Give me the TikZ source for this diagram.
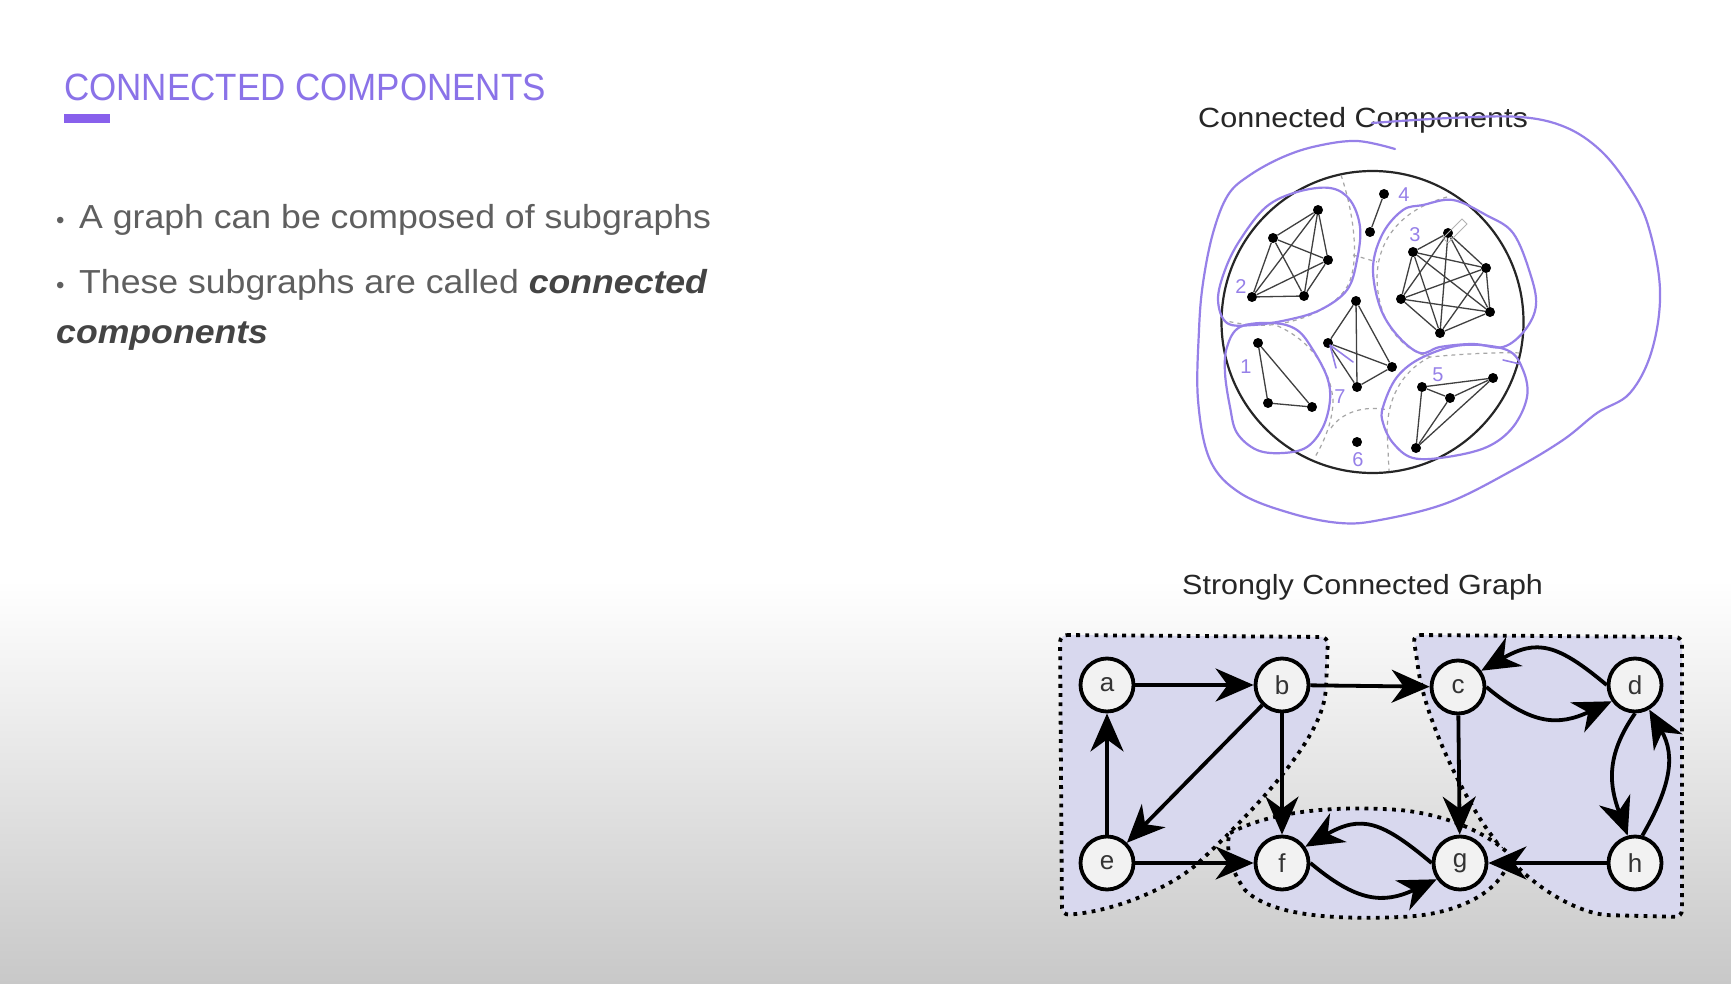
\documentclass[tikz,border=0pt]{standalone}
\usepackage{fontspec}
\setmainfont{Liberation Sans}
\newfontfamily\titlefont[FakeStretch=0.92]{Liberation Sans}
\newfontfamily\bodyfont[FakeStretch=1.07]{Liberation Sans}
\newfontfamily\capfont[FakeStretch=1.1]{Liberation Sans}
\usetikzlibrary{arrows.meta}
\definecolor{titlepurple}{RGB}{138,114,232}
\definecolor{barpurple}{RGB}{136,96,236}
\definecolor{bodygray}{RGB}{95,95,95}
\definecolor{emgray}{RGB}{68,68,68}
\definecolor{penviolet}{RGB}{150,128,232}
\definecolor{regionfill}{RGB}{216,216,238}
\definecolor{bggray}{RGB}{200,200,200}

\begin{document}
\begin{tikzpicture}[x=1pt,y=1pt,
  txt/.style={inner sep=0pt, anchor=base west},
  vtx/.style={circle, draw=black, line width=3.8pt, fill=black!5, minimum size=53pt, inner sep=0pt, font=\fontsize{26}{26}\selectfont, text=black!80},
  arr/.style={line width=3.8pt, -{Stealth[length=38pt,width=33pt,inset=12pt]}},
  region/.style={fill=regionfill, draw=black, line width=3.8pt, dash pattern=on 3.8pt off 5.4pt},
  vdot/.style={circle, fill=black, minimum size=10pt, inner sep=0pt},
  ledge/.style={line width=1.3pt, black!75},
  part/.style={gray!70, line width=1.2pt, dash pattern=on 4pt off 4pt},
  penline/.style={penviolet, line width=2.2pt, line cap=round, line join=round},
  penlabel/.style={text=penviolet, font=\fontsize{20}{20}\selectfont, inner sep=0pt}
]
% page and background
\useasboundingbox (0,0) rectangle (1731,-984);
\fill[white] (0,0) rectangle (1731,-984);
\shade[top color=white, bottom color=bggray] (0,-580) rectangle (1731,-984);

% ---------- left text column ----------
\node[txt, text=titlepurple, font=\titlefont\fontsize{38}{40}\selectfont] (title) at (64,-101) {CONNECTED COMPONENTS};
\fill[barpurple] (64,-114) rectangle (110,-123);

\node[txt, text=bodygray, font=\fontsize{24}{24}\selectfont] (b1) at (56,-229) {\textbullet};
\node[txt, text=bodygray, font=\bodyfont\fontsize{33.3}{33}\selectfont] (l1) at (79,-229) {A graph can be composed of subgraphs};
\node[txt, text=bodygray, font=\fontsize{24}{24}\selectfont] (b2) at (56,-294) {\textbullet};
\node[txt, text=bodygray, font=\bodyfont\fontsize{33.3}{33}\selectfont] (l2) at (79,-294) {These subgraphs are called {\color{emgray}\bfseries\itshape connected}};
\node[txt, text=emgray, font=\bodyfont\fontsize{33.3}{33}\selectfont\bfseries\itshape] (l3) at (56,-343) {components};

% ---------- connected components sketch ----------
\node[txt, text=black!85, font=\capfont\fontsize{27.8}{28}\selectfont] (cctitle) at (1198,-128) {Connected Components};

\draw[line width=2.2pt, black!85] (1372.5,-322) circle (151);

% dashed partition of the disc
\draw[part] (1341,-175) .. controls (1356,-220) and (1360,-270) .. (1345,-290)
            .. controls (1330,-310) and (1300,-322) .. (1270,-325)
            .. controls (1250,-326) and (1235,-323) .. (1222,-320);
\draw[part] (1353,-255) -- (1377,-262);
\draw[part] (1447,-197) .. controls (1400,-210) and (1378,-240) .. (1377,-277)
            .. controls (1377,-320) and (1400,-350) .. (1430,-357)
            .. controls (1460,-354) and (1500,-352) .. (1521,-353);
\draw[part] (1430,-357) .. controls (1400,-372) and (1388,-400) .. (1387,-430) -- (1389,-471);
\draw[part] (1270,-323) .. controls (1305,-335) and (1330,-365) .. (1333,-400)
            .. controls (1333,-420) and (1325,-440) .. (1315,-457);
\draw[part] (1331,-428) .. controls (1342,-412) and (1365,-405) .. (1388,-410);

% component of five vertices
\node[vdot] (p1) at (1318,-210) {};
\node[vdot] (p2) at (1273,-238) {};
\node[vdot] (p3) at (1328,-260) {};
\node[vdot] (p4) at (1252,-297) {};
\node[vdot] (p5) at (1304,-296) {};
\foreach \u/\v in {p1/p2,p1/p3,p1/p4,p1/p5,p2/p3,p2/p4,p2/p5,p3/p4,p3/p5,p4/p5}
  \draw[ledge] (\u) -- (\v);

% component of two vertices
\node[vdot] (k1) at (1384,-194) {};
\node[vdot] (k2) at (1370,-232) {};
\draw[ledge] (k1) -- (k2);

% component of six vertices
\node[vdot] (q1) at (1448,-233) {};
\node[vdot] (q2) at (1413,-252) {};
\node[vdot] (q3) at (1486,-268) {};
\node[vdot] (q4) at (1401,-299) {};
\node[vdot] (q5) at (1490,-312) {};
\node[vdot] (q6) at (1440,-333) {};
\foreach \u/\v in {q1/q2,q1/q3,q1/q4,q1/q5,q1/q6,q2/q3,q2/q4,q2/q5,q2/q6,q3/q4,q3/q5,q3/q6,q4/q5,q4/q6,q5/q6}
  \draw[ledge] (\u) -- (\v);
\draw[gray!60, line width=0.9pt] (1443,-238) -- (1462,-219) -- (1467,-224) -- (1448,-243) -- cycle;

% central component
\node[vdot] (r1) at (1356,-301) {};
\node[vdot] (r2) at (1328,-343) {};
\node[vdot] (r3) at (1392,-367) {};
\node[vdot] (r4) at (1357,-387) {};
\foreach \u/\v in {r1/r2,r1/r3,r1/r4,r2/r3,r2/r4,r3/r4}
  \draw[ledge] (\u) -- (\v);

% triangle component
\node[vdot] (s1) at (1258,-343) {};
\node[vdot] (s2) at (1268,-403) {};
\node[vdot] (s3) at (1312,-407) {};
\draw[ledge] (s1) -- (s2) -- (s3) -- (s1);

% isolated vertex
\node[vdot] (iso) at (1357,-442) {};

% lower right component
\node[vdot] (t1) at (1422,-387) {};
\node[vdot] (t2) at (1493,-378) {};
\node[vdot] (t3) at (1450,-398) {};
\node[vdot] (t4) at (1416,-448) {};
\foreach \u/\v in {t1/t2,t1/t3,t1/t4,t2/t3,t2/t4,t3/t4}
  \draw[ledge] (\u) -- (\v);

% hand-drawn pen strokes
\draw[penline] plot[smooth, tension=0.6] coordinates {
  (1372,-123) (1450,-118) (1520,-117) (1565,-127) (1600,-150) (1628,-185)
  (1648,-225) (1660,-290) (1652,-350) (1630,-393) (1597,-413) (1563,-440)
  (1513,-470) (1447,-503) (1380,-520) (1340,-523) (1290,-513) (1240,-493)
  (1210,-460) (1198,-400) (1199,-330) (1203,-283) (1213,-233) (1228,-195)
  (1250,-175) (1283,-157) (1317,-146) (1357,-141) (1395,-149)};
\draw[penline] plot[smooth cycle, tension=0.6] coordinates {
  (1218,-300) (1225,-270) (1240,-240) (1266,-207) (1297,-192) (1330,-188)
  (1350,-200) (1360,-227) (1357,-260) (1347,-290) (1320,-310) (1287,-320)
  (1253,-325) (1227,-323)};
\draw[penline] plot[smooth cycle, tension=0.6] coordinates {
  (1373,-267) (1383,-233) (1403,-210) (1423,-205) (1453,-200) (1486,-215)
  (1513,-233) (1530,-273) (1536,-305) (1525,-330) (1503,-347) (1473,-344)
  (1440,-347) (1420,-353) (1397,-335) (1380,-307)};
\draw[penline] plot[smooth cycle, tension=0.6] coordinates {
  (1227,-347) (1240,-327) (1273,-323) (1297,-330) (1313,-350) (1327,-377)
  (1330,-400) (1323,-427) (1307,-447) (1283,-453) (1257,-450) (1237,-433)
  (1230,-407) (1225,-373)};
\draw[penline] plot[smooth cycle, tension=0.6] coordinates {
  (1383,-407) (1397,-377) (1423,-357) (1463,-345) (1507,-350) (1523,-370)
  (1527,-397) (1513,-427) (1487,-447) (1447,-457) (1413,-458) (1393,-443)
  (1383,-423)};
\draw[penline, line width=1.6pt] (1353,-362) -- (1330,-345) -- (1336,-368);
\draw[penline, line width=1.6pt] (1503,-360) -- (1520,-364);

\node[penlabel] (lab4) at (1404,-195) {4};
\node[penlabel] (lab3) at (1415,-235) {3};
\node[penlabel] (lab2) at (1241,-287) {2};
\node[penlabel] (lab1) at (1246,-367) {1};
\node[penlabel] (lab7) at (1340,-397) {7};
\node[penlabel] (lab6) at (1358,-460) {6};
\node[penlabel] (lab5) at (1438,-375) {5};

% ---------- strongly connected graph ----------
\node[txt, text=black!85, font=\capfont\fontsize{27.7}{28}\selectfont] (sctitle) at (1182,-594) {Strongly Connected Graph};

% shaded strongly connected regions
\draw[region, rounded corners=7pt] (1060,-635) -- (1328,-637) -- (1326,-690)
  .. controls (1318,-740) and (1265,-800) .. (1195,-866)
  .. controls (1160,-892) and (1110,-912) .. (1062,-915) -- cycle;
\draw[region, rounded corners=7pt] (1413,-635) -- (1682,-637) -- (1682,-917) -- (1603,-915)
  .. controls (1560,-905) and (1520,-875) .. (1495,-840)
  .. controls (1465,-800) and (1425,-720) .. (1417,-660) -- cycle;
\draw[region] (1230,-833) .. controls (1270,-812) and (1330,-805) .. (1400,-810)
  .. controls (1450,-815) and (1490,-835) .. (1510,-855)
  .. controls (1505,-890) and (1460,-915) .. (1400,-917)
  .. controls (1330,-920) and (1270,-915) .. (1245,-890)
  .. controls (1230,-870) and (1225,-845) .. (1230,-833) -- cycle;

% vertices
\node[vtx] (a) at (1107,-685) {a};
\node[vtx] (b) at (1282,-685) {b};
\node[vtx] (c) at (1458,-687) {c};
\node[vtx] (d) at (1635,-685) {d};
\node[vtx] (e) at (1107,-863) {e};
\node[vtx] (f) at (1282,-863) {f};
\node[vtx] (g) at (1460,-863) {g};
\node[vtx] (h) at (1635,-863) {h};

% edges
\draw[arr] (a) -- (b);
\draw[arr] (b) -- (c);
\draw[arr] (b) -- (e);
\draw[arr] (b) -- (f);
\draw[arr] (e) -- (a);
\draw[arr] (e) -- (f);
\draw[arr] (c) -- (g);
\draw[arr] (h) -- (g);
\draw[arr] (c.east) to[out=-40, in=205, looseness=1.2] (d.215);
\draw[arr] (d.west) to[out=140, in=30, looseness=1.3] (c.35);
\draw[arr] (f.east) to[out=-40, in=205, looseness=1.2] (g.215);
\draw[arr] (g.west) to[out=140, in=30, looseness=1.3] (f.35);
\draw[arr] (d.south) to[out=235, in=110, looseness=1.1] (h.105);
\draw[arr] (h.75) to[out=60, in=-60, looseness=1.1] (d.-60);
\end{tikzpicture}
\end{document}
